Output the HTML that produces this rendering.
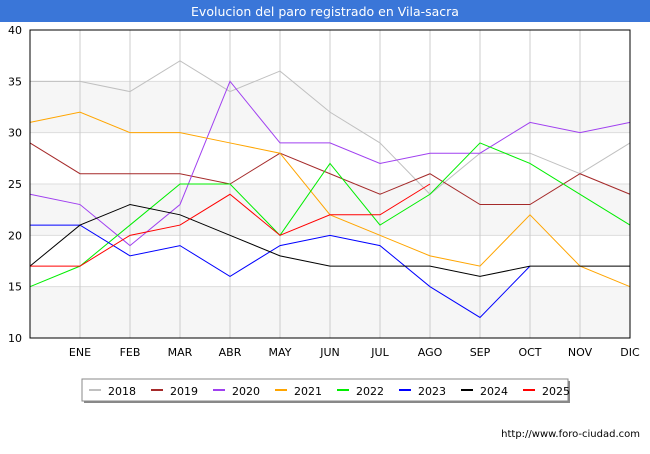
<!DOCTYPE html>
<html><head><meta charset="utf-8"><style>
body{margin:0;width:650px;height:450px;background:#fff;font-family:"DejaVu Sans","Liberation Sans",sans-serif;overflow:hidden}
</style></head><body>
<svg id="c" width="650" height="450" xmlns="http://www.w3.org/2000/svg">
<rect x="0" y="0" width="650" height="22" fill="#3a76d8"/>
<text x="325" y="16" text-anchor="middle" fill="#fff" font-size="12.5">Evolucion del paro registrado en Vila-sacra</text>
<g id="grid"></g><g id="lines"></g><g id="axes"></g>
<g>
<rect x="84" y="381" width="486" height="22" fill="#888"/>
<rect x="82" y="379" width="486" height="22" fill="#fff" stroke="#888"/>
<g id="leg"></g></g>
<text x="640" y="437" text-anchor="end" font-size="10" fill="#000">http://www.foro-ciudad.com</text>
</svg>
<script>
const months=["","ENE","FEB","MAR","ABR","MAY","JUN","JUL","AGO","SEP","OCT","NOV","DIC"];
const yTicks=[10,15,20,25,30,35,40];
const years=["2018","2019","2020","2021","2022","2023","2024","2025"];
const colors=["#c0c0c0","#a52a2a","#a040f0","#ffa500","#00ee00","#0000ff","#000000","#ff0000"];
const s2018=[35,35,34,37,34,36,32,29,24,28,28,26,29];
const s2019=[29,26,26,26,25,28,26,24,26,23,23,26,24];
const s2020=[24,23,19,23,35,29,29,27,28,28,31,30,31];
const s2021=[31,32,30,30,29,28,22,20,18,17,22,17,15];
const s2022=[15,17,21,25,25,20,27,21,24,29,27,24,21];
const s2023=[21,21,18,19,16,19,20,19,15,12,17];
const s2024=[17,21,23,22,20,18,17,17,17,16,17,17,17];
const s2025=[17,17,20,21,24,20,22,22,25];
const series=[s2018,s2019,s2020,s2021,s2022,s2023,s2024,s2025];
const X=i=>30+i*50, Y=v=>338-(v-10)*308/30;
const NS="http://www.w3.org/2000/svg";
function mk(t,a,p){const e=document.createElementNS(NS,t);for(const k in a)e.setAttribute(k,a[k]);p.appendChild(e);return e;}
const g=document.getElementById('grid'),ax=document.getElementById('axes'),ln=document.getElementById('lines'),lg=document.getElementById('leg');
for(let i=0;i<yTicks.length-1;i+=2){const b=mk('rect',{x:30,y:Y(yTicks[i+1]),width:600,height:Y(yTicks[i])-Y(yTicks[i+1]),fill:'#f6f6f6'},g);

}
yTicks.forEach(v=>{const l=mk('line',{x1:30,x2:630,y1:Y(v),y2:Y(v),stroke:'#ddd'},g);


const t=mk('text',{x:22,y:Y(v)+4,'text-anchor':'end','font-size':11},ax);t.textContent=v;

});
months.forEach((m,i)=>{const l=mk('line',{x1:X(i),x2:X(i),y1:30,y2:338,stroke:'#ccc'},g);


if(m){const t=mk('text',{x:X(i),y:356,'text-anchor':'middle','font-size':11},ax);t.textContent=m;

}});
const fr=mk('rect',{x:30,y:30,width:600,height:308,fill:'none',stroke:'#000'},ax);


series.forEach((s,k)=>{const p=mk('polyline',{points:s.map((v,i)=>X(i)+','+Y(v)).join(' '),fill:'none',stroke:colors[k],'stroke-width':1},ln);


const lx=89+k*62;
const sw=mk('rect',{x:lx,y:389,width:12,height:2,fill:colors[k]},lg);


const t=mk('text',{x:lx+19,y:395,'font-size':11},lg);t.textContent=years[k];

});
</script>
</body></html>
